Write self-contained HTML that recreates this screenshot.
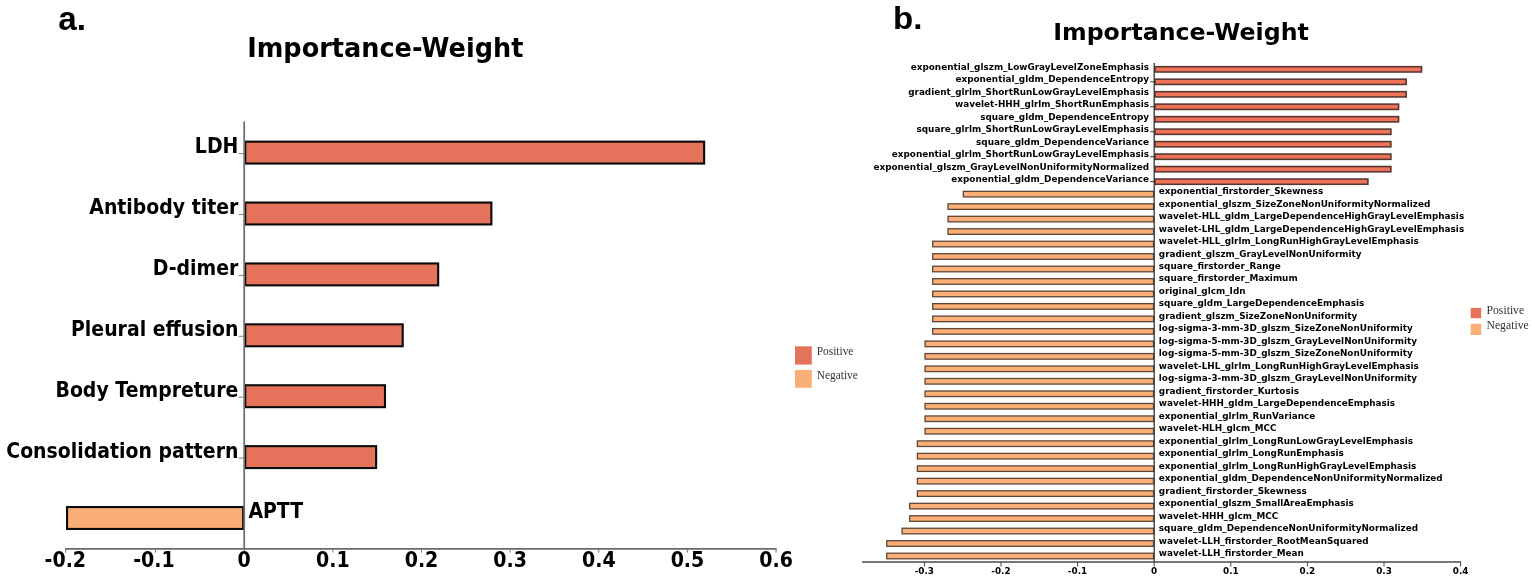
<!DOCTYPE html>
<html><head><meta charset="utf-8"><title>Importance-Weight</title>
<style>
html,body{margin:0;padding:0;background:#fff;}
body{width:1535px;height:582px;overflow:hidden;}
svg{display:block;}

</style></head>
<body>
<svg width="1535" height="582" viewBox="0 0 1535 582">
<rect width="1535" height="582" fill="#ffffff"/>
<rect x="245.25" y="141.65" width="458.88" height="21.90" fill="#e5735c" stroke="#0a0a0a" stroke-width="2.1"/>
<line x1="238.70" y1="153.60" x2="244.20" y2="153.60" stroke="#888" stroke-width="1.1"/>
<text transform="translate(238.40,153.00) scale(1.0,1.075)" font-size="18.9" text-anchor="end" style="font-family:&quot;DejaVu Sans&quot;,&quot;Liberation Sans&quot;,sans-serif;font-weight:bold" >LDH</text>
<rect x="245.25" y="202.55" width="246.12" height="21.90" fill="#e5735c" stroke="#0a0a0a" stroke-width="2.1"/>
<line x1="238.70" y1="214.50" x2="244.20" y2="214.50" stroke="#888" stroke-width="1.1"/>
<text transform="translate(238.40,213.90) scale(1.0,1.075)" font-size="18.9" text-anchor="end" style="font-family:&quot;DejaVu Sans&quot;,&quot;Liberation Sans&quot;,sans-serif;font-weight:bold" >Antibody titer</text>
<rect x="245.25" y="263.45" width="192.93" height="21.90" fill="#e5735c" stroke="#0a0a0a" stroke-width="2.1"/>
<line x1="238.70" y1="275.40" x2="244.20" y2="275.40" stroke="#888" stroke-width="1.1"/>
<text transform="translate(238.40,274.80) scale(1.0,1.075)" font-size="18.9" text-anchor="end" style="font-family:&quot;DejaVu Sans&quot;,&quot;Liberation Sans&quot;,sans-serif;font-weight:bold" >D-dimer</text>
<rect x="245.25" y="324.35" width="157.47" height="21.90" fill="#e5735c" stroke="#0a0a0a" stroke-width="2.1"/>
<line x1="238.70" y1="336.30" x2="244.20" y2="336.30" stroke="#888" stroke-width="1.1"/>
<text transform="translate(238.40,335.70) scale(1.0,1.075)" font-size="18.9" text-anchor="end" style="font-family:&quot;DejaVu Sans&quot;,&quot;Liberation Sans&quot;,sans-serif;font-weight:bold" >Pleural effusion</text>
<rect x="245.25" y="385.25" width="139.74" height="21.90" fill="#e5735c" stroke="#0a0a0a" stroke-width="2.1"/>
<line x1="238.70" y1="397.20" x2="244.20" y2="397.20" stroke="#888" stroke-width="1.1"/>
<text transform="translate(238.40,396.60) scale(1.0,1.075)" font-size="18.9" text-anchor="end" style="font-family:&quot;DejaVu Sans&quot;,&quot;Liberation Sans&quot;,sans-serif;font-weight:bold" >Body Tempreture</text>
<rect x="245.25" y="446.15" width="130.87" height="21.90" fill="#e5735c" stroke="#0a0a0a" stroke-width="2.1"/>
<line x1="238.70" y1="458.10" x2="244.20" y2="458.10" stroke="#888" stroke-width="1.1"/>
<text transform="translate(238.40,457.50) scale(1.0,1.075)" font-size="18.9" text-anchor="end" style="font-family:&quot;DejaVu Sans&quot;,&quot;Liberation Sans&quot;,sans-serif;font-weight:bold" >Consolidation pattern</text>
<rect x="67.05" y="507.05" width="176.10" height="21.90" fill="#f9ae78" stroke="#0a0a0a" stroke-width="2.1"/>
<text transform="translate(248.40,518.40) scale(1.0,1.075)" font-size="18.9" text-anchor="start" style="font-family:&quot;DejaVu Sans&quot;,&quot;Liberation Sans&quot;,sans-serif;font-weight:bold" >APTT</text>
<line x1="244.20" y1="121.60" x2="244.20" y2="548.80" stroke="#707070" stroke-width="1.8"/>
<line x1="65.10" y1="548.80" x2="776.60" y2="548.80" stroke="#6a6a6a" stroke-width="1.8"/>
<line x1="65.60" y1="548.80" x2="65.60" y2="552.60" stroke="#777" stroke-width="1"/>
<text transform="translate(65.30,567.20) scale(1.0,1.07)" font-size="19.0" text-anchor="middle" style="font-family:&quot;DejaVu Sans&quot;,&quot;Liberation Sans&quot;,sans-serif;font-weight:bold" >-0.2</text>
<line x1="155.55" y1="548.80" x2="155.55" y2="552.60" stroke="#777" stroke-width="1"/>
<text transform="translate(153.95,567.20) scale(1.0,1.07)" font-size="19.0" text-anchor="middle" style="font-family:&quot;DejaVu Sans&quot;,&quot;Liberation Sans&quot;,sans-serif;font-weight:bold" >-0.1</text>
<line x1="244.20" y1="548.80" x2="244.20" y2="552.60" stroke="#777" stroke-width="1"/>
<text transform="translate(244.20,567.20) scale(1.0,1.07)" font-size="19.0" text-anchor="middle" style="font-family:&quot;DejaVu Sans&quot;,&quot;Liberation Sans&quot;,sans-serif;font-weight:bold" >0</text>
<line x1="332.85" y1="548.80" x2="332.85" y2="552.60" stroke="#777" stroke-width="1"/>
<text transform="translate(332.85,567.20) scale(1.0,1.07)" font-size="19.0" text-anchor="middle" style="font-family:&quot;DejaVu Sans&quot;,&quot;Liberation Sans&quot;,sans-serif;font-weight:bold" >0.1</text>
<line x1="421.50" y1="548.80" x2="421.50" y2="552.60" stroke="#777" stroke-width="1"/>
<text transform="translate(421.50,567.20) scale(1.0,1.07)" font-size="19.0" text-anchor="middle" style="font-family:&quot;DejaVu Sans&quot;,&quot;Liberation Sans&quot;,sans-serif;font-weight:bold" >0.2</text>
<line x1="510.15" y1="548.80" x2="510.15" y2="552.60" stroke="#777" stroke-width="1"/>
<text transform="translate(510.15,567.20) scale(1.0,1.07)" font-size="19.0" text-anchor="middle" style="font-family:&quot;DejaVu Sans&quot;,&quot;Liberation Sans&quot;,sans-serif;font-weight:bold" >0.3</text>
<line x1="598.80" y1="548.80" x2="598.80" y2="552.60" stroke="#777" stroke-width="1"/>
<text transform="translate(598.80,567.20) scale(1.0,1.07)" font-size="19.0" text-anchor="middle" style="font-family:&quot;DejaVu Sans&quot;,&quot;Liberation Sans&quot;,sans-serif;font-weight:bold" >0.4</text>
<line x1="687.45" y1="548.80" x2="687.45" y2="552.60" stroke="#777" stroke-width="1"/>
<text transform="translate(687.45,567.20) scale(1.0,1.07)" font-size="19.0" text-anchor="middle" style="font-family:&quot;DejaVu Sans&quot;,&quot;Liberation Sans&quot;,sans-serif;font-weight:bold" >0.5</text>
<line x1="776.10" y1="548.80" x2="776.10" y2="552.60" stroke="#777" stroke-width="1"/>
<text transform="translate(776.10,567.20) scale(1.0,1.07)" font-size="19.0" text-anchor="middle" style="font-family:&quot;DejaVu Sans&quot;,&quot;Liberation Sans&quot;,sans-serif;font-weight:bold" >0.6</text>
<text transform="translate(385.30,57.40) scale(1.0,1.05)" font-size="25.55" text-anchor="middle" style="font-family:&quot;DejaVu Sans&quot;,&quot;Liberation Sans&quot;,sans-serif;font-weight:bold" >Importance-Weight</text>
<text transform="translate(58.20,30.00) scale(1.0,1.0)" font-size="33.3" text-anchor="start" style="font-family:&quot;Liberation Sans&quot;,sans-serif;font-weight:bold" >a.</text>
<rect x="795.00" y="346.30" width="16.80" height="18.30" fill="#e5735c"/>
<rect x="795.00" y="369.90" width="16.80" height="17.90" fill="#f9ae78"/>
<text transform="translate(816.70,355.40) scale(1.0,1.15)" font-size="11.4" text-anchor="start" style="font-family:&quot;Liberation Serif&quot;,serif" fill="#333">Positive</text>
<text transform="translate(816.70,379.10) scale(1.0,1.15)" font-size="11.4" text-anchor="start" style="font-family:&quot;Liberation Serif&quot;,serif" fill="#333">Negative</text>
<rect x="1154.98" y="66.70" width="266.55" height="5.30" fill="#ee7257" stroke="#56352f" stroke-width="1.55"/>
<text transform="translate(1149.10,69.85) scale(1.0,1.0)" font-size="8.86" text-anchor="end" style="font-family:&quot;DejaVu Sans&quot;,&quot;Liberation Sans&quot;,sans-serif;font-weight:bold" >exponential_glszm_LowGrayLevelZoneEmphasis</text>
<rect x="1154.98" y="79.18" width="251.23" height="5.30" fill="#ee7257" stroke="#56352f" stroke-width="1.55"/>
<line x1="1150.20" y1="81.83" x2="1154.20" y2="81.83" stroke="#333" stroke-width="1"/>
<text transform="translate(1149.10,82.33) scale(1.0,1.0)" font-size="8.86" text-anchor="end" style="font-family:&quot;DejaVu Sans&quot;,&quot;Liberation Sans&quot;,sans-serif;font-weight:bold" >exponential_gldm_DependenceEntropy</text>
<rect x="1154.98" y="91.66" width="251.23" height="5.30" fill="#ee7257" stroke="#56352f" stroke-width="1.55"/>
<text transform="translate(1149.10,94.81) scale(1.0,1.0)" font-size="8.86" text-anchor="end" style="font-family:&quot;DejaVu Sans&quot;,&quot;Liberation Sans&quot;,sans-serif;font-weight:bold" >gradient_glrlm_ShortRunLowGrayLevelEmphasis</text>
<rect x="1154.98" y="104.13" width="243.57" height="5.30" fill="#ee7257" stroke="#56352f" stroke-width="1.55"/>
<line x1="1150.20" y1="106.78" x2="1154.20" y2="106.78" stroke="#333" stroke-width="1"/>
<text transform="translate(1149.10,107.28) scale(1.0,1.0)" font-size="8.86" text-anchor="end" style="font-family:&quot;DejaVu Sans&quot;,&quot;Liberation Sans&quot;,sans-serif;font-weight:bold" >wavelet-HHH_glrlm_ShortRunEmphasis</text>
<rect x="1154.98" y="116.61" width="243.57" height="5.30" fill="#ee7257" stroke="#56352f" stroke-width="1.55"/>
<text transform="translate(1149.10,119.76) scale(1.0,1.0)" font-size="8.86" text-anchor="end" style="font-family:&quot;DejaVu Sans&quot;,&quot;Liberation Sans&quot;,sans-serif;font-weight:bold" >square_gldm_DependenceEntropy</text>
<rect x="1154.98" y="129.09" width="235.91" height="5.30" fill="#ee7257" stroke="#56352f" stroke-width="1.55"/>
<line x1="1150.20" y1="131.74" x2="1154.20" y2="131.74" stroke="#333" stroke-width="1"/>
<text transform="translate(1149.10,132.24) scale(1.0,1.0)" font-size="8.86" text-anchor="end" style="font-family:&quot;DejaVu Sans&quot;,&quot;Liberation Sans&quot;,sans-serif;font-weight:bold" >square_glrlm_ShortRunLowGrayLevelEmphasis</text>
<rect x="1154.98" y="141.57" width="235.91" height="5.30" fill="#ee7257" stroke="#56352f" stroke-width="1.55"/>
<text transform="translate(1149.10,144.72) scale(1.0,1.0)" font-size="8.86" text-anchor="end" style="font-family:&quot;DejaVu Sans&quot;,&quot;Liberation Sans&quot;,sans-serif;font-weight:bold" >square_gldm_DependenceVariance</text>
<rect x="1154.98" y="154.05" width="235.91" height="5.30" fill="#ee7257" stroke="#56352f" stroke-width="1.55"/>
<line x1="1150.20" y1="156.70" x2="1154.20" y2="156.70" stroke="#333" stroke-width="1"/>
<text transform="translate(1149.10,157.20) scale(1.0,1.0)" font-size="8.86" text-anchor="end" style="font-family:&quot;DejaVu Sans&quot;,&quot;Liberation Sans&quot;,sans-serif;font-weight:bold" >exponential_glrlm_ShortRunLowGrayLevelEmphasis</text>
<rect x="1154.98" y="166.52" width="235.91" height="5.30" fill="#ee7257" stroke="#56352f" stroke-width="1.55"/>
<text transform="translate(1149.10,169.67) scale(1.0,1.0)" font-size="8.86" text-anchor="end" style="font-family:&quot;DejaVu Sans&quot;,&quot;Liberation Sans&quot;,sans-serif;font-weight:bold" >exponential_glszm_GrayLevelNonUniformityNormalized</text>
<rect x="1154.98" y="179.00" width="212.93" height="5.30" fill="#ee7257" stroke="#56352f" stroke-width="1.55"/>
<line x1="1150.20" y1="181.65" x2="1154.20" y2="181.65" stroke="#333" stroke-width="1"/>
<text transform="translate(1149.10,182.15) scale(1.0,1.0)" font-size="8.86" text-anchor="end" style="font-family:&quot;DejaVu Sans&quot;,&quot;Liberation Sans&quot;,sans-serif;font-weight:bold" >exponential_gldm_DependenceVariance</text>
<rect x="963.35" y="191.35" width="190.20" height="5.55" fill="#fcb077" stroke="#5e4636" stroke-width="1.3"/>
<text transform="translate(1158.80,194.13) scale(1.0,1.0)" font-size="8.86" text-anchor="start" style="font-family:&quot;DejaVu Sans&quot;,&quot;Liberation Sans&quot;,sans-serif;font-weight:bold" >exponential_firstorder_Skewness</text>
<rect x="948.03" y="203.83" width="205.52" height="5.55" fill="#fcb077" stroke="#5e4636" stroke-width="1.3"/>
<text transform="translate(1158.80,206.61) scale(1.0,1.0)" font-size="8.86" text-anchor="start" style="font-family:&quot;DejaVu Sans&quot;,&quot;Liberation Sans&quot;,sans-serif;font-weight:bold" >exponential_glszm_SizeZoneNonUniformityNormalized</text>
<rect x="948.03" y="216.31" width="205.52" height="5.55" fill="#fcb077" stroke="#5e4636" stroke-width="1.3"/>
<text transform="translate(1158.80,219.09) scale(1.0,1.0)" font-size="8.86" text-anchor="start" style="font-family:&quot;DejaVu Sans&quot;,&quot;Liberation Sans&quot;,sans-serif;font-weight:bold" >wavelet-HLL_gldm_LargeDependenceHighGrayLevelEmphasis</text>
<rect x="948.03" y="228.79" width="205.52" height="5.55" fill="#fcb077" stroke="#5e4636" stroke-width="1.3"/>
<text transform="translate(1158.80,231.56) scale(1.0,1.0)" font-size="8.86" text-anchor="start" style="font-family:&quot;DejaVu Sans&quot;,&quot;Liberation Sans&quot;,sans-serif;font-weight:bold" >wavelet-LHL_gldm_LargeDependenceHighGrayLevelEmphasis</text>
<rect x="932.71" y="241.27" width="220.84" height="5.55" fill="#fcb077" stroke="#5e4636" stroke-width="1.3"/>
<text transform="translate(1158.80,244.04) scale(1.0,1.0)" font-size="8.86" text-anchor="start" style="font-family:&quot;DejaVu Sans&quot;,&quot;Liberation Sans&quot;,sans-serif;font-weight:bold" >wavelet-HLL_glrlm_LongRunHighGrayLevelEmphasis</text>
<rect x="932.71" y="253.74" width="220.84" height="5.55" fill="#fcb077" stroke="#5e4636" stroke-width="1.3"/>
<text transform="translate(1158.80,256.52) scale(1.0,1.0)" font-size="8.86" text-anchor="start" style="font-family:&quot;DejaVu Sans&quot;,&quot;Liberation Sans&quot;,sans-serif;font-weight:bold" >gradient_glszm_GrayLevelNonUniformity</text>
<rect x="932.71" y="266.22" width="220.84" height="5.55" fill="#fcb077" stroke="#5e4636" stroke-width="1.3"/>
<text transform="translate(1158.80,269.00) scale(1.0,1.0)" font-size="8.86" text-anchor="start" style="font-family:&quot;DejaVu Sans&quot;,&quot;Liberation Sans&quot;,sans-serif;font-weight:bold" >square_firstorder_Range</text>
<rect x="932.71" y="278.70" width="220.84" height="5.55" fill="#fcb077" stroke="#5e4636" stroke-width="1.3"/>
<text transform="translate(1158.80,281.48) scale(1.0,1.0)" font-size="8.86" text-anchor="start" style="font-family:&quot;DejaVu Sans&quot;,&quot;Liberation Sans&quot;,sans-serif;font-weight:bold" >square_firstorder_Maximum</text>
<rect x="932.71" y="291.18" width="220.84" height="5.55" fill="#fcb077" stroke="#5e4636" stroke-width="1.3"/>
<text transform="translate(1158.80,293.95) scale(1.0,1.0)" font-size="8.86" text-anchor="start" style="font-family:&quot;DejaVu Sans&quot;,&quot;Liberation Sans&quot;,sans-serif;font-weight:bold" >original_glcm_Idn</text>
<rect x="932.71" y="303.66" width="220.84" height="5.55" fill="#fcb077" stroke="#5e4636" stroke-width="1.3"/>
<text transform="translate(1158.80,306.43) scale(1.0,1.0)" font-size="8.86" text-anchor="start" style="font-family:&quot;DejaVu Sans&quot;,&quot;Liberation Sans&quot;,sans-serif;font-weight:bold" >square_gldm_LargeDependenceEmphasis</text>
<rect x="932.71" y="316.13" width="220.84" height="5.55" fill="#fcb077" stroke="#5e4636" stroke-width="1.3"/>
<text transform="translate(1158.80,318.91) scale(1.0,1.0)" font-size="8.86" text-anchor="start" style="font-family:&quot;DejaVu Sans&quot;,&quot;Liberation Sans&quot;,sans-serif;font-weight:bold" >gradient_glszm_SizeZoneNonUniformity</text>
<rect x="932.71" y="328.61" width="220.84" height="5.55" fill="#fcb077" stroke="#5e4636" stroke-width="1.3"/>
<text transform="translate(1158.80,331.39) scale(1.0,1.0)" font-size="8.86" text-anchor="start" style="font-family:&quot;DejaVu Sans&quot;,&quot;Liberation Sans&quot;,sans-serif;font-weight:bold" >log-sigma-3-mm-3D_glszm_SizeZoneNonUniformity</text>
<rect x="925.05" y="341.09" width="228.50" height="5.55" fill="#fcb077" stroke="#5e4636" stroke-width="1.3"/>
<text transform="translate(1158.80,343.87) scale(1.0,1.0)" font-size="8.86" text-anchor="start" style="font-family:&quot;DejaVu Sans&quot;,&quot;Liberation Sans&quot;,sans-serif;font-weight:bold" >log-sigma-5-mm-3D_glszm_GrayLevelNonUniformity</text>
<rect x="925.05" y="353.57" width="228.50" height="5.55" fill="#fcb077" stroke="#5e4636" stroke-width="1.3"/>
<text transform="translate(1158.80,356.34) scale(1.0,1.0)" font-size="8.86" text-anchor="start" style="font-family:&quot;DejaVu Sans&quot;,&quot;Liberation Sans&quot;,sans-serif;font-weight:bold" >log-sigma-5-mm-3D_glszm_SizeZoneNonUniformity</text>
<rect x="925.05" y="366.05" width="228.50" height="5.55" fill="#fcb077" stroke="#5e4636" stroke-width="1.3"/>
<text transform="translate(1158.80,368.82) scale(1.0,1.0)" font-size="8.86" text-anchor="start" style="font-family:&quot;DejaVu Sans&quot;,&quot;Liberation Sans&quot;,sans-serif;font-weight:bold" >wavelet-LHL_glrlm_LongRunHighGrayLevelEmphasis</text>
<rect x="925.05" y="378.52" width="228.50" height="5.55" fill="#fcb077" stroke="#5e4636" stroke-width="1.3"/>
<text transform="translate(1158.80,381.30) scale(1.0,1.0)" font-size="8.86" text-anchor="start" style="font-family:&quot;DejaVu Sans&quot;,&quot;Liberation Sans&quot;,sans-serif;font-weight:bold" >log-sigma-3-mm-3D_glszm_GrayLevelNonUniformity</text>
<rect x="925.05" y="391.00" width="228.50" height="5.55" fill="#fcb077" stroke="#5e4636" stroke-width="1.3"/>
<text transform="translate(1158.80,393.78) scale(1.0,1.0)" font-size="8.86" text-anchor="start" style="font-family:&quot;DejaVu Sans&quot;,&quot;Liberation Sans&quot;,sans-serif;font-weight:bold" >gradient_firstorder_Kurtosis</text>
<rect x="925.05" y="403.48" width="228.50" height="5.55" fill="#fcb077" stroke="#5e4636" stroke-width="1.3"/>
<text transform="translate(1158.80,406.26) scale(1.0,1.0)" font-size="8.86" text-anchor="start" style="font-family:&quot;DejaVu Sans&quot;,&quot;Liberation Sans&quot;,sans-serif;font-weight:bold" >wavelet-HHH_gldm_LargeDependenceEmphasis</text>
<rect x="925.05" y="415.96" width="228.50" height="5.55" fill="#fcb077" stroke="#5e4636" stroke-width="1.3"/>
<text transform="translate(1158.80,418.73) scale(1.0,1.0)" font-size="8.86" text-anchor="start" style="font-family:&quot;DejaVu Sans&quot;,&quot;Liberation Sans&quot;,sans-serif;font-weight:bold" >exponential_glrlm_RunVariance</text>
<rect x="925.05" y="428.44" width="228.50" height="5.55" fill="#fcb077" stroke="#5e4636" stroke-width="1.3"/>
<text transform="translate(1158.80,431.21) scale(1.0,1.0)" font-size="8.86" text-anchor="start" style="font-family:&quot;DejaVu Sans&quot;,&quot;Liberation Sans&quot;,sans-serif;font-weight:bold" >wavelet-HLH_glcm_MCC</text>
<rect x="917.39" y="440.91" width="236.16" height="5.55" fill="#fcb077" stroke="#5e4636" stroke-width="1.3"/>
<text transform="translate(1158.80,443.69) scale(1.0,1.0)" font-size="8.86" text-anchor="start" style="font-family:&quot;DejaVu Sans&quot;,&quot;Liberation Sans&quot;,sans-serif;font-weight:bold" >exponential_glrlm_LongRunLowGrayLevelEmphasis</text>
<rect x="917.39" y="453.39" width="236.16" height="5.55" fill="#fcb077" stroke="#5e4636" stroke-width="1.3"/>
<text transform="translate(1158.80,456.17) scale(1.0,1.0)" font-size="8.86" text-anchor="start" style="font-family:&quot;DejaVu Sans&quot;,&quot;Liberation Sans&quot;,sans-serif;font-weight:bold" >exponential_glrlm_LongRunEmphasis</text>
<rect x="917.39" y="465.87" width="236.16" height="5.55" fill="#fcb077" stroke="#5e4636" stroke-width="1.3"/>
<text transform="translate(1158.80,468.65) scale(1.0,1.0)" font-size="8.86" text-anchor="start" style="font-family:&quot;DejaVu Sans&quot;,&quot;Liberation Sans&quot;,sans-serif;font-weight:bold" >exponential_glrlm_LongRunHighGrayLevelEmphasis</text>
<rect x="917.39" y="478.35" width="236.16" height="5.55" fill="#fcb077" stroke="#5e4636" stroke-width="1.3"/>
<text transform="translate(1158.80,481.12) scale(1.0,1.0)" font-size="8.86" text-anchor="start" style="font-family:&quot;DejaVu Sans&quot;,&quot;Liberation Sans&quot;,sans-serif;font-weight:bold" >exponential_gldm_DependenceNonUniformityNormalized</text>
<rect x="917.39" y="490.83" width="236.16" height="5.55" fill="#fcb077" stroke="#5e4636" stroke-width="1.3"/>
<text transform="translate(1158.80,493.60) scale(1.0,1.0)" font-size="8.86" text-anchor="start" style="font-family:&quot;DejaVu Sans&quot;,&quot;Liberation Sans&quot;,sans-serif;font-weight:bold" >gradient_firstorder_Skewness</text>
<rect x="909.73" y="503.31" width="243.82" height="5.55" fill="#fcb077" stroke="#5e4636" stroke-width="1.3"/>
<text transform="translate(1158.80,506.08) scale(1.0,1.0)" font-size="8.86" text-anchor="start" style="font-family:&quot;DejaVu Sans&quot;,&quot;Liberation Sans&quot;,sans-serif;font-weight:bold" >exponential_glszm_SmallAreaEmphasis</text>
<rect x="909.73" y="515.78" width="243.82" height="5.55" fill="#fcb077" stroke="#5e4636" stroke-width="1.3"/>
<text transform="translate(1158.80,518.56) scale(1.0,1.0)" font-size="8.86" text-anchor="start" style="font-family:&quot;DejaVu Sans&quot;,&quot;Liberation Sans&quot;,sans-serif;font-weight:bold" >wavelet-HHH_glcm_MCC</text>
<rect x="902.07" y="528.26" width="251.48" height="5.55" fill="#fcb077" stroke="#5e4636" stroke-width="1.3"/>
<text transform="translate(1158.80,531.04) scale(1.0,1.0)" font-size="8.86" text-anchor="start" style="font-family:&quot;DejaVu Sans&quot;,&quot;Liberation Sans&quot;,sans-serif;font-weight:bold" >square_gldm_DependenceNonUniformityNormalized</text>
<rect x="886.75" y="540.74" width="266.80" height="5.55" fill="#fcb077" stroke="#5e4636" stroke-width="1.3"/>
<text transform="translate(1158.80,543.51) scale(1.0,1.0)" font-size="8.86" text-anchor="start" style="font-family:&quot;DejaVu Sans&quot;,&quot;Liberation Sans&quot;,sans-serif;font-weight:bold" >wavelet-LLH_firstorder_RootMeanSquared</text>
<rect x="886.75" y="553.22" width="266.80" height="5.55" fill="#fcb077" stroke="#5e4636" stroke-width="1.3"/>
<text transform="translate(1158.80,555.99) scale(1.0,1.0)" font-size="8.86" text-anchor="start" style="font-family:&quot;DejaVu Sans&quot;,&quot;Liberation Sans&quot;,sans-serif;font-weight:bold" >wavelet-LLH_firstorder_Mean</text>
<line x1="1154.20" y1="63.00" x2="1154.20" y2="562.00" stroke="#333" stroke-width="1.3"/>
<line x1="862.00" y1="562.00" x2="1461.10" y2="562.00" stroke="#4a4a4a" stroke-width="1.5"/>
<line x1="924.40" y1="562.00" x2="924.40" y2="566.50" stroke="#444" stroke-width="1"/>
<text transform="translate(924.30,574.10) scale(1.0,1.0)" font-size="8.85" text-anchor="middle" style="font-family:&quot;DejaVu Sans&quot;,&quot;Liberation Sans&quot;,sans-serif;font-weight:bold" >-0.3</text>
<line x1="1001.00" y1="562.00" x2="1001.00" y2="566.50" stroke="#444" stroke-width="1"/>
<text transform="translate(1000.90,574.10) scale(1.0,1.0)" font-size="8.85" text-anchor="middle" style="font-family:&quot;DejaVu Sans&quot;,&quot;Liberation Sans&quot;,sans-serif;font-weight:bold" >-0.2</text>
<line x1="1077.60" y1="562.00" x2="1077.60" y2="566.50" stroke="#444" stroke-width="1"/>
<text transform="translate(1077.50,574.10) scale(1.0,1.0)" font-size="8.85" text-anchor="middle" style="font-family:&quot;DejaVu Sans&quot;,&quot;Liberation Sans&quot;,sans-serif;font-weight:bold" >-0.1</text>
<line x1="1154.20" y1="562.00" x2="1154.20" y2="566.50" stroke="#444" stroke-width="1"/>
<text transform="translate(1154.20,574.10) scale(1.0,1.0)" font-size="8.85" text-anchor="middle" style="font-family:&quot;DejaVu Sans&quot;,&quot;Liberation Sans&quot;,sans-serif;font-weight:bold" >0</text>
<line x1="1230.80" y1="562.00" x2="1230.80" y2="566.50" stroke="#444" stroke-width="1"/>
<text transform="translate(1230.80,574.10) scale(1.0,1.0)" font-size="8.85" text-anchor="middle" style="font-family:&quot;DejaVu Sans&quot;,&quot;Liberation Sans&quot;,sans-serif;font-weight:bold" >0.1</text>
<line x1="1307.40" y1="562.00" x2="1307.40" y2="566.50" stroke="#444" stroke-width="1"/>
<text transform="translate(1307.40,574.10) scale(1.0,1.0)" font-size="8.85" text-anchor="middle" style="font-family:&quot;DejaVu Sans&quot;,&quot;Liberation Sans&quot;,sans-serif;font-weight:bold" >0.2</text>
<line x1="1384.00" y1="562.00" x2="1384.00" y2="566.50" stroke="#444" stroke-width="1"/>
<text transform="translate(1384.00,574.10) scale(1.0,1.0)" font-size="8.85" text-anchor="middle" style="font-family:&quot;DejaVu Sans&quot;,&quot;Liberation Sans&quot;,sans-serif;font-weight:bold" >0.3</text>
<line x1="1460.60" y1="562.00" x2="1460.60" y2="566.50" stroke="#444" stroke-width="1"/>
<text transform="translate(1460.60,574.10) scale(1.0,1.0)" font-size="8.85" text-anchor="middle" style="font-family:&quot;DejaVu Sans&quot;,&quot;Liberation Sans&quot;,sans-serif;font-weight:bold" >0.4</text>
<text transform="translate(1181.00,40.40) scale(1.0,1.0)" font-size="23.65" text-anchor="middle" style="font-family:&quot;DejaVu Sans&quot;,&quot;Liberation Sans&quot;,sans-serif;font-weight:bold" >Importance-Weight</text>
<text transform="translate(893.00,29.10) scale(1.05,1.0)" font-size="31.5" text-anchor="start" style="font-family:&quot;Liberation Sans&quot;,sans-serif;font-weight:bold" >b.</text>
<rect x="1470.70" y="307.90" width="10.50" height="10.30" fill="#e5735c"/>
<rect x="1470.70" y="323.80" width="10.50" height="11.20" fill="#f9ae78"/>
<text transform="translate(1486.50,313.70) scale(1.0,1.03)" font-size="11.7" text-anchor="start" style="font-family:&quot;Liberation Serif&quot;,serif" fill="#333">Positive</text>
<text transform="translate(1486.50,329.30) scale(1.0,1.03)" font-size="11.7" text-anchor="start" style="font-family:&quot;Liberation Serif&quot;,serif" fill="#333">Negative</text>
</svg>
</body></html>
